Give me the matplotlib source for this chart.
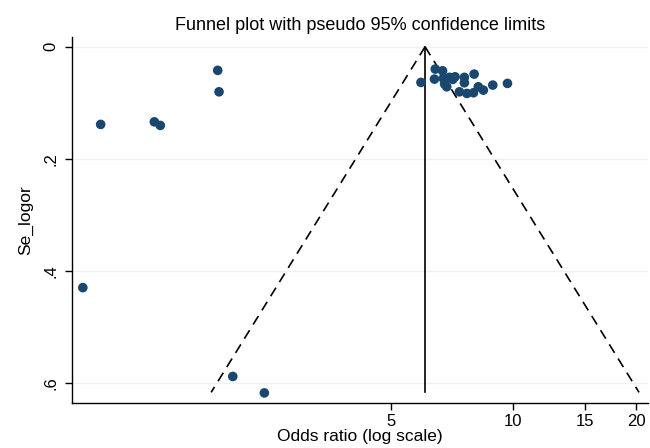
import numpy as np
import matplotlib
matplotlib.use("Agg")
import matplotlib.pyplot as plt
from matplotlib.ticker import FixedLocator, NullLocator

plt.rcParams['font.family'] = ['Liberation Sans', 'DejaVu Sans']

# Study estimates: odds ratio and standard error of log odds ratio
odds_ratio = [0.877, 0.970, 1.314, 1.359, 1.880, 1.894, 2.047, 2.447,
              5.93, 6.43, 6.40, 6.70, 6.73, 6.78, 6.86, 6.97, 7.10, 7.19,
              7.58, 7.58, 7.37, 7.69, 8.01, 7.98, 8.20, 8.44, 8.90, 9.67]
se_logor = [0.430, 0.1386, 0.134, 0.1404, 0.0421, 0.0804, 0.5886, 0.618,
            0.0636, 0.0398, 0.0577, 0.0429, 0.0564, 0.0666, 0.0714, 0.0546, 0.0582, 0.0536,
            0.0546, 0.0643, 0.0804, 0.0833, 0.0488, 0.0821, 0.0714, 0.0774, 0.0684, 0.0654]

pooled_or = 6.07
se_max = 0.617

x_ticks = [5, 10, 15, 20]
y_ticks = [0, 0.2, 0.4, 0.6]
y_ticklabels = ['0', '.2', '.4', '.6']

fig = plt.figure(figsize=(6.5, 4.48), dpi=100)
ax = fig.add_axes([72/650, 1-403/448, (648-72)/650, (403-36.7)/448])

for yt in y_ticks:
    ax.axhline(yt, color='#EAF2F3', lw=1.0, zorder=0)

# funnel limits
se_line = np.array([0, se_max])
lo = np.exp(np.log(pooled_or) - 1.96*se_line)
hi = np.exp(np.log(pooled_or) + 1.96*se_line)
ax.plot(lo, se_line, color='black', ls=(0, (6, 4)), lw=1.2, zorder=2)
ax.plot(hi, se_line, color='black', ls=(0, (6, 4)), lw=1.2, zorder=2)
ax.plot([pooled_or, pooled_or], [0, se_max], color='black', lw=1.2, zorder=2)

ax.scatter(odds_ratio, se_logor, s=48, color='#1A476F', edgecolors='none', zorder=3)

ax.set_xscale('log')
ax.set_xlim(0.825, 21.4)
ax.set_ylim(0.636, -0.018)

ax.xaxis.set_major_locator(FixedLocator(x_ticks))
ax.xaxis.set_minor_locator(NullLocator())
ax.set_xticklabels([str(t) for t in x_ticks])
ax.set_yticks(y_ticks)
ax.set_yticklabels(y_ticklabels, rotation=90, va='center')

ax.tick_params(axis='both', direction='out', length=5, width=1, labelsize=12, colors='black')
ax.tick_params(axis='x', pad=3)
ax.tick_params(axis='y', pad=5)

for s in ['top', 'right']:
    ax.spines[s].set_visible(False)
for s in ['left', 'bottom']:
    ax.spines[s].set_linewidth(1.0)
    ax.spines[s].set_color('black')

ax.set_xlabel('Odds ratio (log scale)', fontsize=12.5, labelpad=0)
ax.set_ylabel('Se_logor', fontsize=12.5, labelpad=7)
ax.set_title('Funnel plot with pseudo 95% confidence limits', fontsize=13, pad=5)

fig.savefig('out.png', dpi=100, facecolor='white')
